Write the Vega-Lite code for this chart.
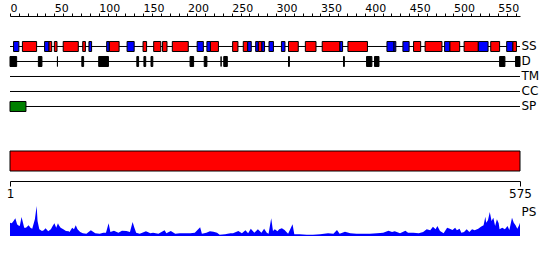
{
  "$schema": "https://vega.github.io/schema/vega-lite/v6.json",
  "padding": {"left": 6, "top": 2, "right": 0, "bottom": 0},
  "bounds": "flush",
  "spacing": 35,
  "config": {
    "view": {"stroke": null},
    "font": "DejaVu Sans",
    "axis": {"grid": false, "labelFont": "DejaVu Sans", "labelFontSize": 12, "labelColor": "#000", "domainColor": "#000", "tickColor": "#000", "title": null, "labelFlush": false, "labelOverlap": false}
  },
  "vconcat": [
    {
      "width": 510,
      "height": 100,
      "layer": [
        {
          "data": {"values": [
            {"track": "SS", "start": 0, "end": 575},
            {"track": "D", "start": 0, "end": 575},
            {"track": "TM", "start": 0, "end": 575},
            {"track": "CC", "start": 0, "end": 575},
            {"track": "SP", "start": 0, "end": 575}
          ]},
          "mark": {"type": "rule", "color": "#000", "strokeWidth": 1, "yOffset": 0.5},
          "encoding": {
            "x": {"field": "start", "type": "quantitative",
              "scale": {"domain": [0, 575], "nice": false, "zero": false},
              "axis": {"orient": "top", "values": [0,10,20,30,40,50,60,70,80,90,100,110,120,130,140,150,160,170,180,190,200,210,220,230,240,250,260,270,280,290,300,310,320,330,340,350,360,370,380,390,400,410,420,430,440,450,460,470,480,490,500,510,520,530,540,550,560,570],
                "tickCount": 200,
                "labelExpr": "datum.value % 50 == 0 ? datum.label : ''", "labelAlign": "left", "labelBaseline": "alphabetic", "tickSize": 3, "labelPadding": 1.5, "labelFontSize": 11, "labelOverlap": false, "labelFlush": false, "labelBound": false}},
            "x2": {"field": "end"},
            "y": {"field": "track", "type": "nominal", "bandPosition": 0.5,
              "scale": {"type": "band", "domain": ["SS", "D", "TM", "CC", "SP"], "paddingInner": 0.3333, "paddingOuter": 1, "align": 0.833},
              "axis": {"orient": "right", "ticks": false, "domain": false, "labelPadding": 1, "labelFontSize": 12}}
          }
        },
        {
          "data": {"values": [
            {"track": "SS", "kind": "strand", "start": 4, "end": 10},
            {"track": "SS", "kind": "helix", "start": 14, "end": 30},
            {"track": "SS", "kind": "strand", "start": 39, "end": 44},
            {"track": "SS", "kind": "helix", "start": 44, "end": 47},
            {"track": "SS", "kind": "helix", "start": 50, "end": 53},
            {"track": "SS", "kind": "helix", "start": 60, "end": 77},
            {"track": "SS", "kind": "helix", "start": 82, "end": 85},
            {"track": "SS", "kind": "strand", "start": 89, "end": 92},
            {"track": "SS", "kind": "strand", "start": 109, "end": 112},
            {"track": "SS", "kind": "helix", "start": 112, "end": 123},
            {"track": "SS", "kind": "strand", "start": 132, "end": 140},
            {"track": "SS", "kind": "helix", "start": 150, "end": 154},
            {"track": "SS", "kind": "helix", "start": 162, "end": 170},
            {"track": "SS", "kind": "helix", "start": 172, "end": 177},
            {"track": "SS", "kind": "helix", "start": 183, "end": 201},
            {"track": "SS", "kind": "strand", "start": 211, "end": 218},
            {"track": "SS", "kind": "strand", "start": 222, "end": 226},
            {"track": "SS", "kind": "helix", "start": 226, "end": 235},
            {"track": "SS", "kind": "helix", "start": 251, "end": 257},
            {"track": "SS", "kind": "helix", "start": 263, "end": 268},
            {"track": "SS", "kind": "strand", "start": 268, "end": 272},
            {"track": "SS", "kind": "strand", "start": 277, "end": 280},
            {"track": "SS", "kind": "helix", "start": 280, "end": 284},
            {"track": "SS", "kind": "strand", "start": 284, "end": 287},
            {"track": "SS", "kind": "strand", "start": 292, "end": 297},
            {"track": "SS", "kind": "strand", "start": 306, "end": 310},
            {"track": "SS", "kind": "helix", "start": 314, "end": 325},
            {"track": "SS", "kind": "helix", "start": 333, "end": 345},
            {"track": "SS", "kind": "helix", "start": 352, "end": 372},
            {"track": "SS", "kind": "strand", "start": 372, "end": 375},
            {"track": "SS", "kind": "helix", "start": 381, "end": 403},
            {"track": "SS", "kind": "strand", "start": 425, "end": 433},
            {"track": "SS", "kind": "strand", "start": 433, "end": 435},
            {"track": "SS", "kind": "strand", "start": 443, "end": 450},
            {"track": "SS", "kind": "helix", "start": 455, "end": 463},
            {"track": "SS", "kind": "helix", "start": 468, "end": 487},
            {"track": "SS", "kind": "strand", "start": 490, "end": 496},
            {"track": "SS", "kind": "helix", "start": 496, "end": 507},
            {"track": "SS", "kind": "helix", "start": 512, "end": 528},
            {"track": "SS", "kind": "strand", "start": 528, "end": 539},
            {"track": "SS", "kind": "helix", "start": 542, "end": 552},
            {"track": "SS", "kind": "strand", "start": 560, "end": 567},
            {"track": "SS", "kind": "helix", "start": 567, "end": 571},
            {"track": "D", "kind": "disorder", "start": 0, "end": 7.5},
            {"track": "D", "kind": "disorder", "start": 32, "end": 36},
            {"track": "D", "kind": "disorder", "start": 53.5, "end": 53.5},
            {"track": "D", "kind": "disorder", "start": 81, "end": 83},
            {"track": "D", "kind": "disorder", "start": 100, "end": 111},
            {"track": "D", "kind": "disorder", "start": 143, "end": 145},
            {"track": "D", "kind": "disorder", "start": 151, "end": 153},
            {"track": "D", "kind": "disorder", "start": 159, "end": 161},
            {"track": "D", "kind": "disorder", "start": 203, "end": 207},
            {"track": "D", "kind": "disorder", "start": 219, "end": 222},
            {"track": "D", "kind": "disorder", "start": 238, "end": 238},
            {"track": "D", "kind": "disorder", "start": 241, "end": 245},
            {"track": "D", "kind": "disorder", "start": 314, "end": 315},
            {"track": "D", "kind": "disorder", "start": 376, "end": 377},
            {"track": "D", "kind": "disorder", "start": 402, "end": 408},
            {"track": "D", "kind": "disorder", "start": 411, "end": 416},
            {"track": "D", "kind": "disorder", "start": 552, "end": 558},
            {"track": "D", "kind": "disorder", "start": 570, "end": 575},
            {"track": "SP", "kind": "signal", "start": 0, "end": 18}
          ]},
          "mark": {"type": "rect", "stroke": "#000", "strokeWidth": 1, "yOffset": 0.5},
          "encoding": {
            "x": {"field": "start", "type": "quantitative"},
            "x2": {"field": "end"},
            "y": {"field": "track", "type": "nominal"},
            "fill": {"field": "kind", "type": "nominal",
              "scale": {"domain": ["helix", "strand", "disorder", "signal"], "range": ["#ff0000", "#0000ff", "#000000", "#008000"]},
              "legend": null}
          }
        }
      ]
    },
    {
      "width": 510,
      "height": 20,
      "data": {"values": [{"start": 1, "end": 575}]},
      "mark": {"type": "rect", "fill": "#ff0000", "stroke": "#000", "strokeWidth": 1},
      "encoding": {
        "x": {"field": "start", "type": "quantitative",
          "scale": {"domain": [1, 575], "nice": false, "zero": false},
          "axis": {"orient": "bottom", "values": [1, 575], "offset": 10, "tickSize": 5, "labelPadding": 2, "labelFontSize": 12, "labelOverlap": false, "labelFlush": false}},
        "x2": {"field": "end"}
      }
    },
    {
      "width": 510,
      "height": 30,
      "data": {"values": [
        {"r":1,"v":13.3},{"r":3,"v":12.7},{"r":5,"v":15},{"r":7,"v":17.7},{"r":9,"v":11.7},{"r":10,"v":10.7},{"r":12,"v":10},{"r":14,"v":19},{"r":17,"v":8.3},{"r":19,"v":8.3},
        {"r":22,"v":10.7},{"r":24,"v":8.3},{"r":26,"v":7.3},{"r":29,"v":16.7},{"r":31,"v":30},{"r":32,"v":15},{"r":34,"v":6.7},{"r":37,"v":5},{"r":39,"v":5.7},{"r":41,"v":7.7},
        {"r":44,"v":4.7},{"r":47,"v":6.7},{"r":49,"v":10},{"r":51,"v":12.7},{"r":53,"v":8.3},{"r":55,"v":12.7},{"r":56,"v":10.7},{"r":58,"v":8.3},{"r":61,"v":6.7},{"r":64,"v":5},
        {"r":67,"v":4.7},{"r":68,"v":4},{"r":71,"v":8.3},{"r":73,"v":6.7},{"r":75,"v":10.7},{"r":77,"v":6.7},{"r":80,"v":4},{"r":83,"v":2.7},{"r":87,"v":2.3},{"r":92,"v":5.7},
        {"r":97,"v":2.7},{"r":102,"v":2.3},{"r":106,"v":3.3},{"r":109,"v":3.3},{"r":112,"v":12.7},{"r":114,"v":4},{"r":118,"v":5.3},{"r":123,"v":3.3},{"r":127,"v":5.3},{"r":132,"v":5},
        {"r":136,"v":4},{"r":139,"v":14},{"r":141,"v":8.3},{"r":143,"v":3.3},{"r":147,"v":2.3},{"r":154,"v":4.7},{"r":159,"v":2.7},{"r":162,"v":3.3},{"r":168,"v":2.3},{"r":175,"v":5.7},
        {"r":177,"v":2.7},{"r":182,"v":5},{"r":187,"v":2.3},{"r":192,"v":2.7},{"r":198,"v":2.7},{"r":204,"v":2.7},{"r":209,"v":3.3},{"r":212,"v":6},{"r":215,"v":8.7},{"r":217,"v":2.3},
        {"r":222,"v":3.3},{"r":226,"v":4.7},{"r":230,"v":4.3},{"r":234,"v":3.3},{"r":237,"v":1.3},{"r":243,"v":1.7},{"r":249,"v":2.7},{"r":252,"v":2.7},{"r":258,"v":5},{"r":262,"v":2.7},
        {"r":266,"v":5.7},{"r":269,"v":2.7},{"r":272,"v":7.3},{"r":276,"v":3.3},{"r":280,"v":6.7},{"r":284,"v":3.3},{"r":287,"v":7.3},{"r":290,"v":3.3},{"r":292,"v":2.3},{"r":295,"v":17.7},
        {"r":297,"v":5},{"r":299,"v":6.7},{"r":302,"v":4.7},{"r":304,"v":6.7},{"r":307,"v":7.7},{"r":310,"v":6},{"r":314,"v":2.3},{"r":319,"v":11.7},{"r":321,"v":1.7},{"r":327,"v":1.7},
        {"r":335,"v":1.3},{"r":342,"v":1.3},{"r":350,"v":1.7},{"r":359,"v":2.7},{"r":365,"v":2.3},{"r":369,"v":6},{"r":372,"v":2.3},{"r":378,"v":4.3},{"r":384,"v":2.7},{"r":391,"v":2.3},
        {"r":399,"v":2.3},{"r":406,"v":2.3},{"r":414,"v":2.7},{"r":421,"v":3.3},{"r":427,"v":5.3},{"r":431,"v":4},{"r":434,"v":4.7},{"r":440,"v":2.7},{"r":446,"v":5.3},{"r":449,"v":3.3},
        {"r":455,"v":3.3},{"r":461,"v":2.7},{"r":466,"v":4},{"r":470,"v":6.7},{"r":474,"v":5.7},{"r":477,"v":9.3},{"r":480,"v":6.7},{"r":482,"v":10},{"r":485,"v":5},{"r":489,"v":2.7},
        {"r":493,"v":8.3},{"r":496,"v":7.3},{"r":499,"v":6},{"r":502,"v":8.3},{"r":504,"v":5.7},{"r":507,"v":7.3},{"r":509,"v":3.3},{"r":512,"v":4},{"r":515,"v":6.7},{"r":518,"v":4},
        {"r":521,"v":6.7},{"r":524,"v":5.7},{"r":528,"v":7.3},{"r":531,"v":9.3},{"r":534,"v":10.7},{"r":536,"v":19.3},{"r":537,"v":13.3},{"r":539,"v":16},{"r":541,"v":24},{"r":543,"v":15},
        {"r":545,"v":18.3},{"r":547,"v":10},{"r":549,"v":16.7},{"r":551,"v":12.7},{"r":552,"v":6.7},{"r":555,"v":8.3},{"r":558,"v":6.7},{"r":561,"v":10},{"r":563,"v":6},{"r":564,"v":10},
        {"r":566,"v":18.3},{"r":568,"v":13.3},{"r":570,"v":10.7},{"r":572,"v":7.3},{"r":574,"v":10.7},{"r":575,"v":13.3}
      ]},
      "mark": {"type": "area", "color": "#0000ff", "interpolate": "linear"},
      "encoding": {
        "x": {"field": "r", "type": "quantitative", "scale": {"domain": [1, 575], "nice": false, "zero": false}, "axis": null},
        "y": {"field": "v", "type": "quantitative", "scale": {"domain": [0, 30], "nice": false},
          "axis": {"orient": "right", "values": [24.5], "labelExpr": "'PS'", "ticks": false, "domain": false, "labelPadding": 1, "labelFontSize": 12}}
      }
    }
  ]
}
